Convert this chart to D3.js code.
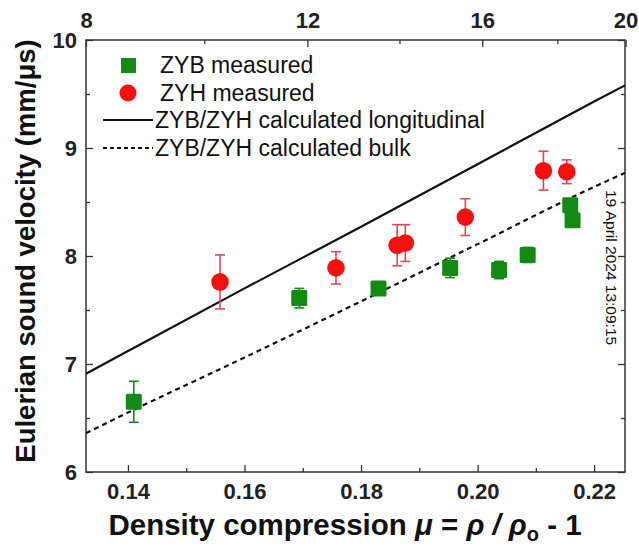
<!DOCTYPE html>
<html>
<head>
  <meta charset="UTF-8">
  <style>
    body { margin: 0; background: #fff; }
    svg { font-family: Arial, "Liberation Sans", sans-serif; }
  </style>
</head>
<body>
<svg></svg>
<script src="https://d3js.org/d3.v7.min.js"></script>
<script>
let width = 639,
    height = 547;

let margin = {top: 40, right: 14, bottom: 75, left: 86};

// ZYB measured (green squares)
let zybMu  = [0.1410, 0.1694, 0.1830, 0.1953, 0.2037, 0.2086, 0.2159, 0.2163];
let zybV   = [6.65, 7.61, 7.70, 7.89, 7.87, 8.01, 8.47, 8.33];
let zybErr = [0.19, 0.09, 0.06, 0.09, 0.08, 0.07, 0.06, 0.06];

// ZYH measured (red circles)
let zyhMu  = [0.1558, 0.1757, 0.1862, 0.1876, 0.1979, 0.2113, 0.2153];
let zyhV   = [7.76, 7.89, 8.10, 8.12, 8.36, 8.79, 8.78];
let zyhErr = [0.25, 0.15, 0.19, 0.17, 0.17, 0.18, 0.11];

// calculated curves
let calcMu   = [0.1328, 0.14, 0.16, 0.18, 0.20, 0.22, 0.2253];
let calcLong = [6.91, 7.12, 7.70, 8.27, 8.85, 9.43, 9.58];
let calcBulk = [6.36, 6.55, 7.06, 7.58, 8.11, 8.64, 8.77];

// top axis: pressure and where it falls in compression
let pressureTicks = [8, 10, 12, 14, 16, 18, 20];
let pressureMu    = [0.1328, 0.1531, 0.1708, 0.1866, 0.2008, 0.2137, 0.2254];

let xMajor = [0.14, 0.16, 0.18, 0.20, 0.22];
let xMinor = [0.15, 0.17, 0.19, 0.21];
let yMajor = [6, 7, 8, 9, 10];
let yMinor = [6.5, 7.5, 8.5, 9.5];

let green = "#138a13",
    red = "#f50f0f",
    redBar = "#e0485a",
    frameColor = "#333";

let svg = d3.select("svg")
    .attr("width", width)
    .attr("height", height);

let x = d3.scaleLinear()
    .domain([0.1328, 0.2253])
    .range([margin.left, width - margin.right]);

let y = d3.scaleLinear()
    .domain([6, 10])
    .range([height - margin.bottom, margin.top]);

let p = d3.scaleLinear()
    .domain(pressureTicks)
    .range(pressureMu.map(d => x(d)));

let x0 = margin.left, x1 = width - margin.right,
    y0 = height - margin.bottom, y1 = margin.top;

function styleAxis(g) {
  g.select(".domain").remove();
  g.selectAll(".tick line").attr("stroke", frameColor).attr("stroke-width", 1.3);
  g.selectAll(".tick text")
    .attr("font-size", 22)
    .attr("font-weight", "bold")
    .attr("fill", "#222");
}

// bottom
svg.append("g").attr("transform", `translate(0,${y0})`)
  .call(d3.axisBottom(x).tickValues(xMajor).tickFormat(d3.format(".2f")).tickSize(-7).tickPadding(11))
  .call(styleAxis);
svg.append("g").attr("transform", `translate(0,${y0})`)
  .call(d3.axisBottom(x).tickValues(xMinor).tickFormat("").tickSize(-4))
  .call(styleAxis);

// top
svg.append("g").attr("transform", `translate(0,${y1})`)
  .call(d3.axisTop(p).tickValues([8, 12, 16, 20]).tickFormat(d3.format("d")).tickSize(-7).tickPadding(12))
  .call(styleAxis);
svg.append("g").attr("transform", `translate(0,${y1})`)
  .call(d3.axisTop(p).tickValues([10, 14, 18]).tickFormat("").tickSize(-4))
  .call(styleAxis);

// left
svg.append("g").attr("transform", `translate(${x0},0)`)
  .call(d3.axisLeft(y).tickValues(yMajor).tickFormat(d3.format("d")).tickSize(-7).tickPadding(9))
  .call(styleAxis);
svg.append("g").attr("transform", `translate(${x0},0)`)
  .call(d3.axisLeft(y).tickValues(yMinor).tickFormat("").tickSize(-4))
  .call(styleAxis);

// right
svg.append("g").attr("transform", `translate(${x1},0)`)
  .call(d3.axisRight(y).tickValues(yMajor).tickFormat("").tickSize(-7))
  .call(styleAxis);
svg.append("g").attr("transform", `translate(${x1},0)`)
  .call(d3.axisRight(y).tickValues(yMinor).tickFormat("").tickSize(-4))
  .call(styleAxis);

// frame
svg.append("rect")
  .attr("x", x0).attr("y", y1)
  .attr("width", x1 - x0).attr("height", y0 - y1)
  .attr("fill", "none")
  .attr("stroke", frameColor)
  .attr("stroke-width", 1.5);

// calculated lines
let line = d3.line()
  .x(d => x(d[0]))
  .y(d => y(d[1]))
  .curve(d3.curveMonotoneX);

svg.append("path")
  .datum(calcMu.map((m, i) => [m, calcLong[i]]))
  .attr("fill", "none")
  .attr("stroke", "#111")
  .attr("stroke-width", 2.2)
  .attr("d", line);

svg.append("path")
  .datum(calcMu.map((m, i) => [m, calcBulk[i]]))
  .attr("fill", "none")
  .attr("stroke", "#111")
  .attr("stroke-width", 2.2)
  .attr("stroke-dasharray", "5,4")
  .attr("d", line);

// error bars
function errorBars(mu, v, err, color) {
  let data = mu.map((m, i) => ({m: m, v: v[i], e: err[i]}));
  let g = svg.append("g").attr("stroke", color).attr("stroke-width", 1.6);
  g.selectAll("line.v").data(data).enter().append("line")
    .attr("x1", d => x(d.m)).attr("x2", d => x(d.m))
    .attr("y1", d => y(d.v - d.e)).attr("y2", d => y(d.v + d.e));
  g.selectAll("line.top").data(data).enter().append("line")
    .attr("x1", d => x(d.m) - 5).attr("x2", d => x(d.m) + 5)
    .attr("y1", d => y(d.v + d.e)).attr("y2", d => y(d.v + d.e));
  g.selectAll("line.bot").data(data).enter().append("line")
    .attr("x1", d => x(d.m) - 5).attr("x2", d => x(d.m) + 5)
    .attr("y1", d => y(d.v - d.e)).attr("y2", d => y(d.v - d.e));
}

errorBars(zybMu, zybV, zybErr, green);
errorBars(zyhMu, zyhV, zyhErr, redBar);

// markers
svg.append("g").selectAll("rect")
  .data(zybMu.map((m, i) => ({m: m, v: zybV[i]})))
  .enter().append("rect")
  .attr("x", d => x(d.m) - 8)
  .attr("y", d => y(d.v) - 8)
  .attr("width", 16).attr("height", 16)
  .attr("rx", 1.5)
  .attr("fill", green);

svg.append("g").selectAll("circle")
  .data(zyhMu.map((m, i) => ({m: m, v: zyhV[i]})))
  .enter().append("circle")
  .attr("cx", d => x(d.m))
  .attr("cy", d => y(d.v))
  .attr("r", 8.8)
  .attr("fill", red);

// legend
let legend = svg.append("g").attr("font-size", 23).attr("fill", "#111");
legend.append("rect").attr("x", 121).attr("y", 58).attr("width", 15).attr("height", 15).attr("fill", green);
legend.append("circle").attr("cx", 128).attr("cy", 93).attr("r", 8.5).attr("fill", red);
legend.append("line").attr("x1", 103).attr("x2", 153).attr("y1", 120).attr("y2", 120)
  .attr("stroke", "#111").attr("stroke-width", 2);
legend.append("line").attr("x1", 103).attr("x2", 153).attr("y1", 148).attr("y2", 148)
  .attr("stroke", "#111").attr("stroke-width", 2).attr("stroke-dasharray", "4,3");

let legendText = ["ZYB measured", "ZYH measured", "ZYB/ZYH calculated longitudinal", "ZYB/ZYH calculated bulk"];
legend.selectAll("text.lg").data(legendText).enter().append("text")
  .attr("x", (d, i) => i < 2 ? 160 : 155)
  .attr("y", (d, i) => 73 + i * 27.7)
  .text(d => d);

// axis titles
let xt = svg.append("text")
  .attr("x", 345).attr("y", 535)
  .attr("text-anchor", "middle")
  .attr("font-size", 29.5)
  .attr("font-weight", "bold")
  .attr("fill", "#111");
xt.append("tspan").text("Density compression ");
xt.append("tspan").attr("font-style", "italic").text("\u03bc");
xt.append("tspan").text(" = ");
xt.append("tspan").attr("font-style", "italic").text("\u03c1 / \u03c1");
xt.append("tspan").attr("font-size", 20).attr("dy", 6).text("o");
xt.append("tspan").attr("dy", -6).text(" - 1");

svg.append("text")
  .attr("transform", "translate(35,251) rotate(-90)")
  .attr("text-anchor", "middle")
  .attr("font-size", 27.5)
  .attr("font-weight", "bold")
  .attr("fill", "#111")
  .text("Eulerian sound velocity (mm/\u03bcs)");

// date stamp
svg.append("text")
  .attr("transform", "translate(606,190) rotate(90)")
  .attr("font-size", 15.5)
  .attr("fill", "#111")
  .text("19 April 2024 13:09:15");
</script>
</body>
</html>
